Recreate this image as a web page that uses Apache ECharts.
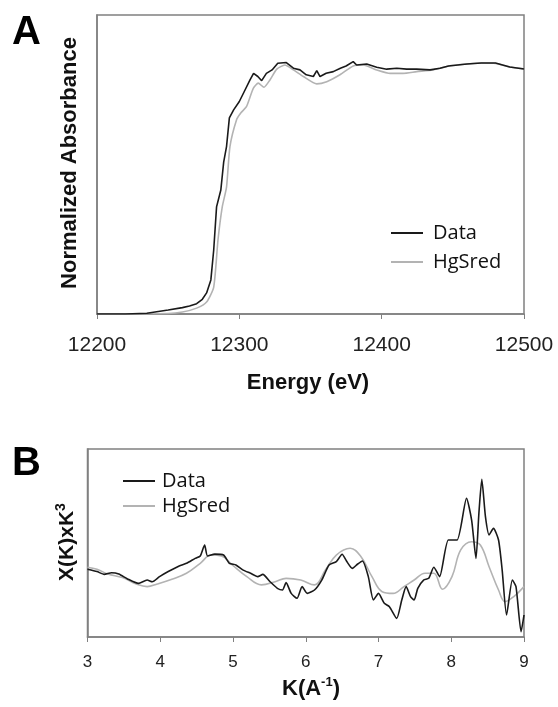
<!DOCTYPE html>
<html>
<head>
<meta charset="utf-8">
<script src="https://cdn.jsdelivr.net/npm/echarts@6/dist/echarts.min.js"></script>
<style>
html,body{margin:0;padding:0;background:#fff;}
#chart{width:558px;height:707px;}
</style>
</head>
<body>
<div id="chart"></div>
<script>
// Panel A: XANES (energy in eV, normalized absorbance)
var energyData = [12200,12220,12235,12250,12260,12265,12270,12274,12277,12280,12282,12284,12287,12289,12291,12293,12296,12300,12304,12307.5,12310,12313,12315.7,12319,12323,12327,12333,12338,12342.6,12347,12352,12354.4,12356.7,12361,12366,12371,12375,12380,12382.4,12389.5,12396.5,12403.5,12410.6,12417.6,12424.6,12434,12441,12447,12460,12470,12480,12490,12500];
var absData = [0,0,0.003,0.016,0.026,0.033,0.042,0.06,0.086,0.139,0.261,0.437,0.506,0.62,0.683,0.8,0.833,0.867,0.914,0.955,0.982,0.969,0.952,0.982,0.996,1.023,1.026,1.003,0.996,0.976,0.969,0.993,0.969,0.982,0.989,1.003,1.012,1.03,1.016,1.02,1.007,0.999,1.003,0.999,0.999,0.996,1.003,1.012,1.02,1.024,1.024,1.008,1.0];
var energyFit = [12200,12250,12260,12270,12277,12282,12285,12288,12291,12293.4,12298,12301,12305,12309.8,12313.3,12317.3,12321.5,12326.3,12332,12338,12345,12354.4,12361.4,12370.7,12380,12387,12396.5,12406,12415,12424.6,12436,12447,12460,12470,12480,12490,12500];
var absFit = [0,0.002,0.008,0.024,0.049,0.11,0.302,0.437,0.518,0.683,0.792,0.82,0.846,0.921,0.942,0.925,0.955,0.999,1.016,0.996,0.969,0.939,0.948,0.976,1.012,1.016,0.996,0.982,0.982,0.989,0.996,1.012,1.02,1.024,1.022,1.008,1.0];
var energyTicks = [12200,12300,12400,12500];

// Panel B: EXAFS (k, chi(k)*k^3, arbitrary units)
var kData = [3.0,3.13,3.23,3.33,3.43,3.55,3.70,3.82,3.89,3.99,4.11,4.26,4.36,4.48,4.55,4.61,4.65,4.75,4.87,4.95,5.04,5.14,5.24,5.34,5.41,5.51,5.61,5.68,5.73,5.80,5.88,5.95,6.02,6.12,6.22,6.32,6.42,6.50,6.56,6.64,6.71,6.78,6.86,6.93,7.00,7.08,7.15,7.25,7.32,7.38,7.44,7.49,7.54,7.62,7.69,7.76,7.84,7.96,8.08,8.21,8.28,8.34,8.38,8.42,8.47,8.52,8.58,8.65,8.70,8.76,8.84,8.89,8.96,9.0];
var chiData = [3.60,3.48,3.33,3.42,3.35,3.09,2.85,3.03,2.94,3.21,3.48,3.78,3.92,4.18,4.31,4.89,4.31,4.41,4.36,3.92,3.83,3.56,3.39,3.21,3.33,2.94,2.59,2.50,2.89,2.32,2.06,2.68,2.32,2.50,3.03,3.83,4.01,4.40,4.04,3.65,3.87,4.04,3.21,1.97,2.32,1.79,1.61,0.99,1.97,2.68,2.15,1.97,2.59,3.03,3.12,3.71,3.21,5.16,5.16,7.38,6.22,4.18,6.58,8.39,6.40,5.43,5.78,5.16,3.56,1.17,3.03,2.68,0.28,1.17];
var kFit = [3.0,3.13,3.28,3.48,3.67,3.82,3.96,4.16,4.36,4.55,4.70,4.84,4.99,5.19,5.39,5.58,5.73,5.93,6.12,6.27,6.42,6.61,6.76,6.91,7.05,7.20,7.35,7.49,7.64,7.76,7.88,8.01,8.13,8.28,8.40,8.52,8.65,8.74,8.86,9.0];
var chiFit = [3.71,3.60,3.35,3.16,2.82,2.68,2.82,3.07,3.39,3.92,4.36,4.31,3.83,3.21,2.77,2.94,3.12,3.03,2.77,3.56,4.36,4.72,4.27,3.21,2.41,2.32,2.68,3.03,3.39,3.39,2.54,3.21,4.63,5.07,4.89,3.74,2.50,1.88,2.15,2.68];
var kTicks = [3,4,5,6,7,8,9];

function pairs(xs, ys){ return xs.map(function(x,i){ return [x, ys[i]]; }); }

var chart = echarts.init(document.getElementById('chart'), null, {renderer:'canvas'});
var frame = '#808080';
var tickFont = 'Liberation Sans, Arial, sans-serif';
var legendFont = '"Open Sans", sans-serif';
var boldFont = '"Liberation Sans", Arial, sans-serif';

var option = {
  backgroundColor: '#ffffff',
  animation: false,
  grid: [
    {left: 97, top: 15, width: 427, height: 299, show: true, borderColor: frame, borderWidth: 1.5, backgroundColor: 'transparent'},
    {left: 87.5, top: 449, width: 436.5, height: 188, show: true, borderColor: frame, borderWidth: 1.5, backgroundColor: 'transparent'}
  ],
  xAxis: [
    {type: 'value', gridIndex: 0, min: 12200, max: 12500, interval: 100,
     axisLine: {show: true, lineStyle: {color: frame, width: 1.5}},
     axisTick: {show: true, inside: false, length: 5, lineStyle: {color: frame}},
     axisLabel: {show: true, margin: 21, fontSize: 21, color: '#222', fontFamily: tickFont,
                 formatter: function(v){ return energyTicks.indexOf(v) >= 0 ? String(v) : ''; }},
     splitLine: {show: false}},
    {type: 'value', gridIndex: 1, min: 3, max: 9, interval: 1,
     axisLine: {show: true, lineStyle: {color: frame, width: 1.5}},
     axisTick: {show: true, inside: false, length: 5, lineStyle: {color: frame}},
     axisLabel: {show: true, margin: 17, fontSize: 17, color: '#222', fontFamily: tickFont,
                 formatter: function(v){ return kTicks.indexOf(v) >= 0 ? String(v) : ''; }},
     splitLine: {show: false}}
  ],
  yAxis: [
    {type: 'value', gridIndex: 0, min: 0, max: 1.22,
     axisLine: {show: true, lineStyle: {color: frame, width: 1.5}},
     axisTick: {show: false}, axisLabel: {show: false}, splitLine: {show: false}},
    {type: 'value', gridIndex: 1, min: 0, max: 10,
     axisLine: {show: true, lineStyle: {color: frame, width: 1.5}},
     axisTick: {show: false}, axisLabel: {show: false}, splitLine: {show: false}}
  ],
  legend: [
    {orient: 'vertical', left: 386, top: 216, itemWidth: 32, itemHeight: 2, itemGap: 5, icon: 'rect',
     data: ['Data', 'HgSred'],
     textStyle: {fontFamily: legendFont, fontSize: 20, color: '#111', lineHeight: 24, padding: [0,0,0,5]}},
    {orient: 'vertical', left: 118, top: 464, itemWidth: 32, itemHeight: 2, itemGap: 1, icon: 'rect',
     data: ['Data', 'HgSred'],
     textStyle: {fontFamily: legendFont, fontSize: 20, color: '#111', lineHeight: 24, padding: [0,0,0,2]}}
  ],
  graphic: [
    {type: 'text', left: 12, top: 13, style: {text: 'A', font: 'bold 40px ' + boldFont, fill: '#000'}},
    {type: 'text', left: 12, top: 444, style: {text: 'B', font: 'bold 40px ' + boldFont, fill: '#000'}},
    {type: 'text', x: 308, y: 383, style: {text: 'Energy (eV)', font: 'bold 22px ' + boldFont, fill: '#111', align: 'center', verticalAlign: 'middle'}},
    {type: 'text', x: 70, y: 163, rotation: Math.PI/2, style: {text: 'Normalized Absorbance', font: 'bold 22px ' + boldFont, fill: '#111', align: 'center', verticalAlign: 'middle'}},
    {type: 'text', x: 66, y: 542, rotation: Math.PI/2, style: {
      text: '{a|X(K)xK}{s|3}', align: 'center', verticalAlign: 'middle',
      rich: {a: {font: 'bold 21px ' + boldFont, fill: '#111', lineHeight: 24, verticalAlign: 'bottom'},
             s: {font: 'bold 14px ' + boldFont, fill: '#111', lineHeight: 24, verticalAlign: 'top'}}}},
    {type: 'text', x: 311, y: 688, style: {
      text: '{a|K(A}{s|-1}{a|)}', align: 'center', verticalAlign: 'middle',
      rich: {a: {font: 'bold 22px ' + boldFont, fill: '#111', lineHeight: 24, verticalAlign: 'bottom'},
             s: {font: 'bold 13px ' + boldFont, fill: '#111', lineHeight: 24, verticalAlign: 'top'}}}}
  ],
  series: [
    {name: 'HgSred', type: 'line', xAxisIndex: 0, yAxisIndex: 0, data: pairs(energyFit, absFit), showSymbol: false, smooth: 0.2,
     lineStyle: {color: '#b3b3b3', width: 1.6}, itemStyle: {color: '#b3b3b3'}, z: 2},
    {name: 'Data', type: 'line', xAxisIndex: 0, yAxisIndex: 0, data: pairs(energyData, absData), showSymbol: false,
     lineStyle: {color: '#1a1a1a', width: 1.6}, itemStyle: {color: '#1a1a1a'}, z: 3},
    {name: 'HgSred', type: 'line', xAxisIndex: 1, yAxisIndex: 1, data: pairs(kFit, chiFit), showSymbol: false, smooth: 0.4,
     lineStyle: {color: '#b3b3b3', width: 1.6}, itemStyle: {color: '#b3b3b3'}, z: 2},
    {name: 'Data', type: 'line', xAxisIndex: 1, yAxisIndex: 1, data: pairs(kData, chiData), showSymbol: false, smooth: 0.2,
     lineStyle: {color: '#1a1a1a', width: 1.6}, itemStyle: {color: '#1a1a1a'}, z: 3}
  ]
};
chart.setOption(option);
</script>
</body>
</html>
